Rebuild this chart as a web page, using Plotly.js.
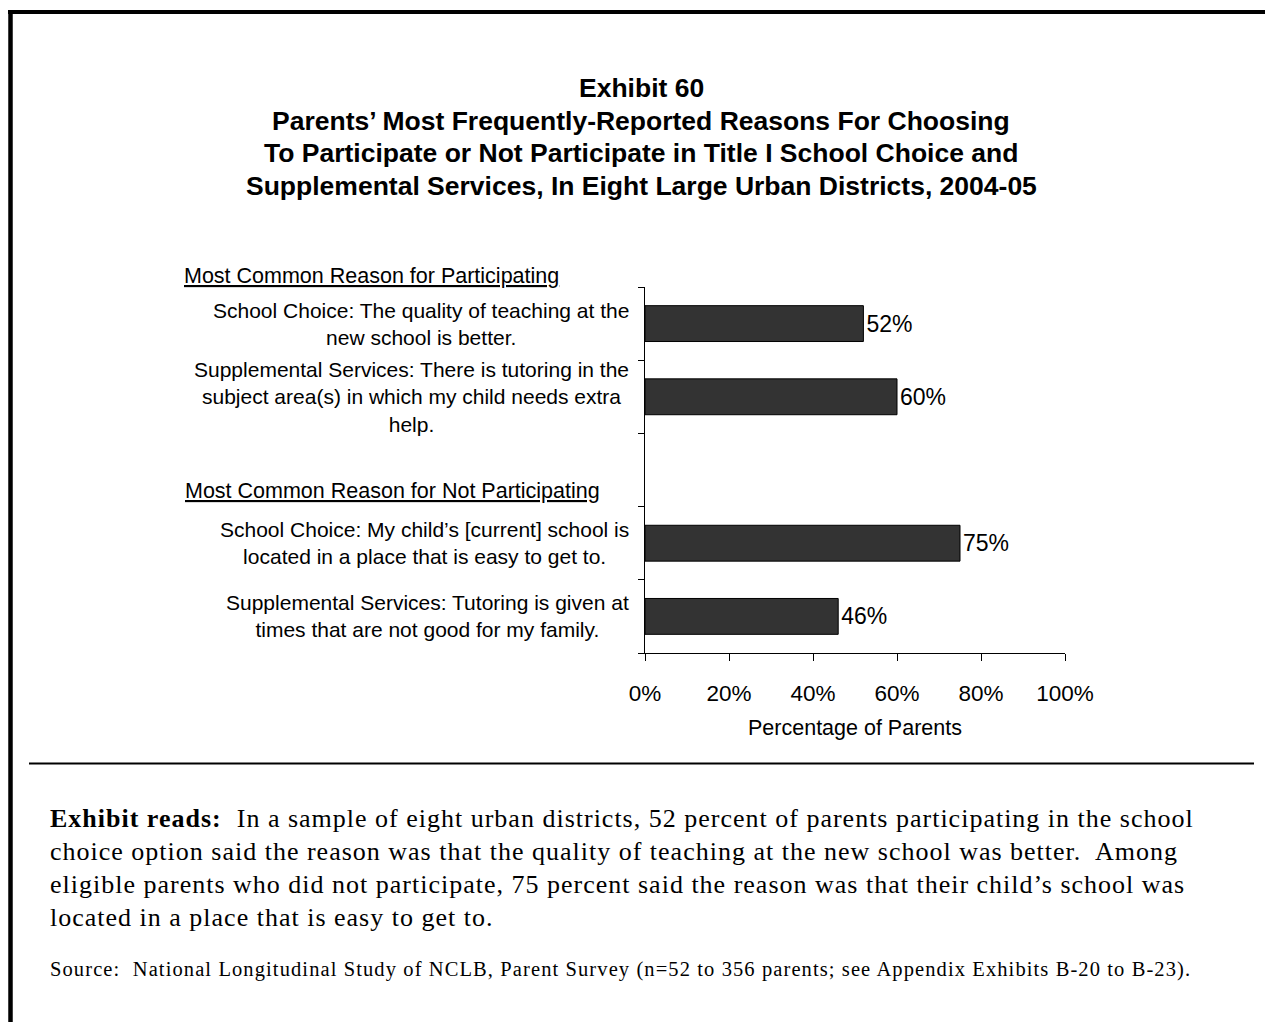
<!DOCTYPE html>
<html>
<head>
<meta charset="utf-8">
<script src="https://cdn.plot.ly/plotly-3.0.1.min.js"></script>
<style>html,body{margin:0;padding:0;background:#fff;}#chart{width:1265px;height:1022px;}</style>
</head>
<body>
<div id="chart"></div>
<script>
// ---- data ----
const categories = ["sc_participate", "ses_participate", "gap", "sc_not", "ses_not"];
const values = [52, 60, null, 75, 46];
const categoryLabels = [
  "School Choice: The quality of teaching at the<br>new school is better.",
  "Supplemental Services: There is tutoring in the<br>subject area(s) in which my child needs extra<br>help.",
  "",
  "School Choice: My child’s [current] school is<br>located in a place that is easy to get to.",
  "Supplemental Services: Tutoring is given at<br>times that are not good for my family."
];
const groupHeaders = ["Most Common Reason for Participating", "Most Common Reason for Not Participating"];
const xTickVals = [0, 20, 40, 60, 80, 100];
const xTickText = ["0%", "20%", "40%", "60%", "80%", "100%"];
const titleLines = [
  "Exhibit 60",
  "Parents’ Most Frequently-Reported Reasons For Choosing",
  "To Participate or Not Participate in Title I School Choice and",
  "Supplemental Services, In Eight Large Urban Districts, 2004-05"
];
const readsLines = [
  "<b>Exhibit reads:</b>\u00a0 In a sample of eight urban districts, 52 percent of parents participating in the school",
  "choice option said the reason was that the quality of teaching at the new school was better.\u00a0 Among",
  "eligible parents who did not participate, 75 percent said the reason was that their child’s school was",
  "located in a place that is easy to get to."
];
const sourceText = "Source:\u00a0 National Longitudinal Study of NCLB, Parent Survey (n=52 to 356 parents; see Appendix Exhibits B-20 to B-23).";

// ---- geometry helpers (plot area in pixels) ----
const W = 1265, H = 1022;
const L = 645, R = 1065, T = 287, B = 653;
const px = x => (x - L) / (R - L);
const py = y => (B - y) / (B - T);

const yIdx = categories.map((c, i) => i);
const sans = "Liberation Sans, Arial, sans-serif";
const serif = "Liberation Serif, Times New Roman, serif";
const spaced = (t, ls) => '<span style="letter-spacing:' + ls + 'px">' + t + '</span>';

const trace = {
  type: "bar",
  orientation: "h",
  x: values,
  y: yIdx,
  width: 0.49,
  marker: {color: "#333333", line: {color: "#000000", width: 1}},
  text: values.map(v => v == null ? "" : v + "%"),
  textposition: "outside",
  textfont: {family: sans, size: 23, color: "#000"},
  cliponaxis: false,
  hoverinfo: "skip"
};

const annotations = [];
categoryLabels.forEach((lab, i) => {
  if (!lab) return;
  annotations.push({
    xref: "paper", yref: "y", x: px(631), y: yIdx[i],
    xanchor: "right", yanchor: "middle", align: "center",
    text: lab, showarrow: false,
    font: {family: sans, size: 21, color: "#000"}
  });
});
annotations.push({
  xref: "paper", yref: "paper", x: px(182), y: py(276),
  xanchor: "left", yanchor: "middle", text: "<u>" + groupHeaders[0] + "</u>",
  showarrow: false, font: {family: sans, size: 21.5, color: "#000"}
});
annotations.push({
  xref: "paper", yref: "paper", x: px(183), y: py(491),
  xanchor: "left", yanchor: "middle", text: "<u>" + groupHeaders[1] + "</u>",
  showarrow: false, font: {family: sans, size: 21.5, color: "#000"}
});
readsLines.forEach((ln, i) => {
  annotations.push({
    xref: "paper", yref: "paper", x: px(48), y: py(818 + i * 33.3),
    xanchor: "left", yanchor: "middle", align: "left",
    text: spaced(ln, 1.0), showarrow: false,
    font: {family: serif, size: 26, color: "#000"}
  });
});
annotations.push({
  xref: "paper", yref: "paper", x: px(48), y: py(969),
  xanchor: "left", yanchor: "middle", align: "left",
  text: spaced(sourceText, 1.1), showarrow: false,
  font: {family: serif, size: 20.5, color: "#000"}
});
titleLines.forEach((ln, i) => {
  annotations.push({
    xref: "paper", yref: "paper", x: px(641), y: py(88 + i * 32.7),
    xanchor: "center", yanchor: "middle",
    text: "<b>" + ln + "</b>", showarrow: false,
    font: {family: sans, size: 26.5, color: "#000"}
  });
});

const shapes = [
  {type: "line", xref: "paper", yref: "paper", x0: px(8), x1: px(1266), y0: py(12), y1: py(12), line: {color: "#000", width: 4}},
  {type: "line", xref: "paper", yref: "paper", x0: px(10.5), x1: px(10.5), y0: py(10), y1: py(1023), line: {color: "#000", width: 4.5}},
  {type: "line", xref: "paper", yref: "paper", x0: px(29), x1: px(1254), y0: py(763.5), y1: py(763.5), line: {color: "#000", width: 2}}
];

const layout = {
  width: W, height: H,
  margin: {l: L, r: W - R, t: T, b: H - B, pad: 0},
  paper_bgcolor: "#fff", plot_bgcolor: "#fff",
  showlegend: false,
  font: {family: sans, color: "#000"},
  xaxis: {
    range: [0, 100], tickmode: "array", tickvals: xTickVals, ticktext: xTickText,
    ticks: "outside", ticklen: 7, tickcolor: "#000", tickwidth: 1,
    showline: true, linecolor: "#000", linewidth: 1,
    showgrid: false, zeroline: false, fixedrange: true,
    tickfont: {family: sans, size: 22.5, color: "#000"},
    ticklabelstandoff: 13,
    title: {text: "Percentage of Parents", font: {family: sans, size: 21.5, color: "#000"}, standoff: 14}
  },
  yaxis: {
    range: [4.5, -0.5], tickmode: "array", tickvals: [-0.5, 0.5, 1.5, 2.5, 3.5, 4.5],
    showticklabels: false, ticks: "outside", ticklen: 6, tickcolor: "#000", tickwidth: 1,
    showline: true, linecolor: "#000", linewidth: 1,
    showgrid: false, zeroline: false, fixedrange: true
  },
  annotations: annotations,
  shapes: shapes
};

Plotly.newPlot("chart", [trace], layout, {displayModeBar: false, staticPlot: true});
</script>
</body>
</html>
